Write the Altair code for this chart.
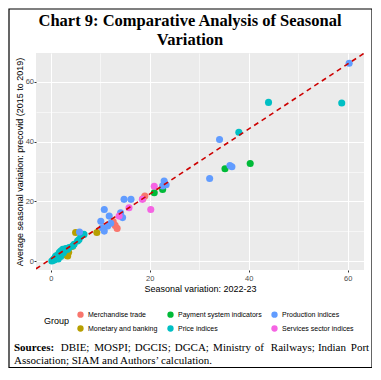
import altair as alt
import pandas as pd

# ---------------- data ----------------
groups = ["Merchandise trade", "Monetary and banking", "Payment system indicators",
          "Price indices", "Production indices", "Services sector indices"]
colors = ["#F8766D", "#B79F00", "#00BA38", "#00BFC4", "#619CFF", "#F564E3"]

merch_x = [12.6, 13.0, 13.4, 18.6, 19.0]
merch_y = [13.3, 12.0, 11.0, 20.9, 21.8]

monet_x = [2.8, 3.4, 3.6, 4.4, 5.0, 9.3]
monet_y = [2.2, 1.8, 3.0, 5.0, 9.6, 9.6]

pay_x = [20.9, 22.6, 35.2, 40.3]
pay_y = [22.9, 24.0, 30.9, 32.7]

price_x = [0.2, 0.5, 0.8, 1.0, 1.3, 1.7, 2.0, 2.4, 2.7, 0.7, 1.3, 2.0, 3.4, 3.7,
           4.4, 4.7, 5.4, 5.7, 6.1, 6.7, 1.8, 2.5, 1.5, 3.0, 38.0, 44.0, 58.8]
price_y = [0.1, 0.6, 1.2, 1.8, 2.0, 2.9, 3.4, 4.0, 3.4, 0.4, 1.0, 1.6, 4.0, 4.6,
           5.1, 5.7, 6.8, 7.3, 8.4, 9.0, 2.2, 2.8, 0.8, 4.3, 43.1, 53.1, 52.9]

prod_x = [5.8, 10.1, 10.8, 10.4, 10.8, 11.5, 11.8, 12.1, 14.1, 14.5, 14.8, 16.2,
          22.9, 23.3, 22.6, 32.1, 34.1, 36.2, 36.6, 60.3]
prod_y = [9.8, 13.4, 17.3, 11.2, 10.1, 11.8, 15.1, 12.7, 16.2, 14.6, 20.7, 20.7,
          26.8, 25.6, 25.2, 27.7, 40.7, 32.0, 31.6, 66.2]

serv_x = [13.8, 15.8, 18.5, 20.9, 20.2]
serv_y = [15.1, 17.9, 20.7, 25.1, 17.3]

# dashed reference line (end points at the panel edges)
line_x = [-3.0, 63.3]
line_y = [-2.5, 69.5]

tick_values = [0, 10, 20, 30, 40, 50, 60]

title_lines = ["Chart 9: Comparative Analysis of Seasonal", "Variation"]
src_words = ["Sources:", "DBIE;", "MOSPI;", "DGCIS;", "DGCA;", "Ministry", "of",
             "Railways;", "Indian", "Port"]
src_line2 = "Association; SIAM and Authors\u2019 calculation."

# ---------------- build tables ----------------
rows = []
for g, xs, ys in [(groups[0], merch_x, merch_y), (groups[1], monet_x, monet_y),
                  (groups[2], pay_x, pay_y), (groups[3], price_x, price_y),
                  (groups[4], prod_x, prod_y), (groups[5], serv_x, serv_y)]:
    for a, b in zip(xs, ys):
        rows.append({"x": a, "y": b, "Group": g})
pts = pd.DataFrame(rows)
line_df = pd.DataFrame({"x": line_x, "y": line_y})

# legend order (ggplot fills column-wise, vega row-wise)
leg_order = [groups[0], groups[2], groups[4], groups[1], groups[3], groups[5]]
leg_colors = [colors[groups.index(g)] for g in leg_order]

W, H = 328, 217
OX = 36  # page x of plot origin
major = "datum.value % 20 === 0"

def axis_common(title, **kw):
    return alt.Axis(
        title=title, values=tick_values,
        labelExpr=f"{major} ? datum.label : ''",
        grid=True, gridColor="white",
        gridWidth={"condition": {"test": major, "value": 1.1}, "value": 0.55},
        tickOpacity={"condition": {"test": major, "value": 1}, "value": 0},
        tickColor="#333333", tickSize=2, tickWidth=1,
        domain=False, labelColor="#4D4D4D", labelFontSize=7.5,
        labelFont="Liberation Sans", titleFont="Liberation Sans",
        titleFontSize=9, titleFontWeight="normal", titleColor="black",
        **kw)

xenc = alt.X("x:Q", scale=alt.Scale(domain=[-3.0, 63.3], nice=False, zero=False),
             axis=axis_common("Seasonal variation: 2022-23", labelPadding=2,
                              titlePadding=3))
yenc = alt.Y("y:Q", scale=alt.Scale(domain=[-2.9, 69.6], nice=False, zero=False),
             axis=axis_common("Average seasonal variation: precovid (2015 to 2019)",
                              labelPadding=0.5, titleX=-16.5, titleY=H / 2,
                              titleBaseline="middle", titleAngle=270))

points = alt.Chart(pts).mark_circle(size=50, opacity=1).encode(
    x=xenc, y=yenc,
    color=alt.Color("Group:N",
                    scale=alt.Scale(domain=leg_order, range=leg_colors),
                    legend=alt.Legend(orient="none", legendX=8, legendY=258,
                                      columns=3, direction="horizontal",
                                      title="Group", titleOrient="left",
                                      titleFontSize=9, titleFontWeight="normal",
                                      titleFont="Liberation Sans",
                                      titlePadding=7, titleBaseline="middle",
                                      labelFont="Liberation Sans", labelFontSize=7,
                                      labelColor="black", symbolSize=40,
                                      symbolType="circle", rowPadding=6,
                                      columnPadding=9, labelOffset=4, padding=0,
                                      symbolStrokeWidth=0))
)

line = alt.Chart(line_df).mark_line(color="#CD0000", strokeDash=[5, 4],
                                    strokeWidth=1.6, clip=True).encode(x=xenc, y=yenc)

def text_layer(txt, x, y, size, weight="normal", align="center", font="Liberation Serif"):
    return alt.Chart(pd.DataFrame({"t": [txt]})).mark_text(
        fontSize=size, fontWeight=weight, font=font, align=align,
        baseline="middle", color="black").encode(
        text="t:N", x=alt.value(x), y=alt.value(y))

t1 = text_layer(title_lines[0], 154, -32, 16.5, "bold")
t2 = text_layer(title_lines[1], 154, -13, 16.5, "bold")

# justified first source line: word start positions (page x)
word_px = [14, 60.7, 94.2, 134.7, 174.7, 213.1, 254.7, 270.8, 317.9, 350.8]
src_layers = []
for i, (w, px) in enumerate(zip(src_words, word_px)):
    src_layers.append(text_layer(w, px - OX, 295, 11, "bold" if i == 0 else "normal", "left"))
s2 = text_layer(src_line2, 14 - OX, 308, 11, "normal", "left")

frame = alt.Chart(pd.DataFrame({"a": [0]})).mark_rect(
    fill=None, stroke="black", strokeWidth=1.2).encode(
    x=alt.value(-27), x2=alt.value(336), y=alt.value(-44), y2=alt.value(314.5))

chart = alt.layer(points, line, t1, t2, *src_layers, s2, frame).properties(
    width=W, height=H,
    padding={"left": 28, "top": 45, "right": 8, "bottom": 98},
    autosize="none",
).configure_view(fill="#EBEBEB", stroke=None)

chart.save("out.html", embed_options={"renderer": "svg", "actions": False})
